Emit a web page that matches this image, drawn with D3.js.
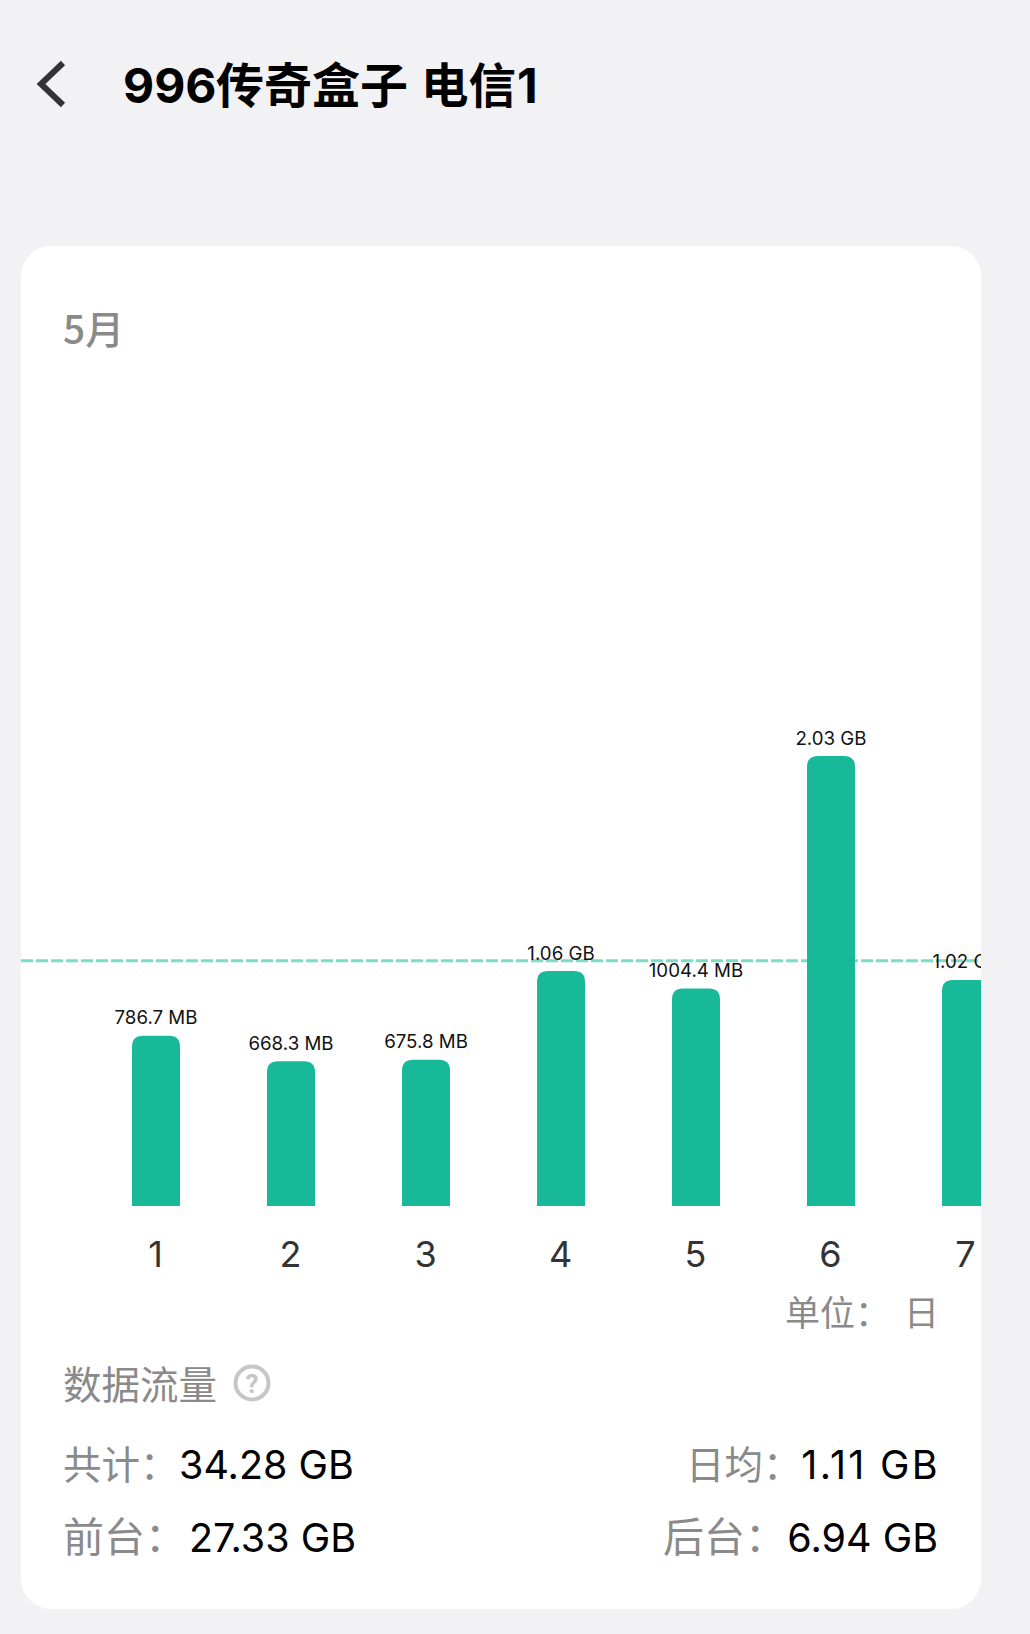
<!DOCTYPE html>
<html><head><meta charset="utf-8">
<script src="https://cdn.jsdelivr.net/npm/d3@7"></script>
<style>html,body{margin:0;padding:0;background:#f2f2f4}svg{display:block}</style>
</head><body><div id="c"></div>
<script>
const days = ["1","2","3","4","5","6","7"];
// Daily traffic in GB (MB labels divided by 1024)
const dailyGB = [0.768, 0.653, 0.660, 1.06, 0.981, 2.03, 1.02];
const barLabels = ["786.7 MB","668.3 MB","675.8 MB","1.06 GB","1004.4 MB","2.03 GB","1.02 GB"];
const averageGB = 1.106;
const stats = [
  {k:"共计：", v:"34.28 GB"},
  {k:"前台：", v:"27.33 GB"},
  {k:"日均：", v:"1.11 GB"},
  {k:"后台：", v:"6.94 GB"}
];
const CJK = '"Noto Sans CJK SC"';
const W = 1030, H = 1634;
const svg = d3.select("#c").append("svg").attr("width",W).attr("height",H);
svg.append("rect").attr("width",W).attr("height",H).attr("fill","#f2f2f4");

// header
svg.append("path").attr("d","M63,63 L41,84 L63,105").attr("fill","none").attr("stroke","#333").attr("stroke-width",6);
const title = svg.append("text").attr("y",103).attr("font-weight",700).attr("fill","#000");
[["996",123,"Inter",48],["传奇盒子",216,CJK,48],["电信",421,CJK,47.5],["1",517,"Inter",48]].forEach(p=>{
  title.append("tspan").attr("x",p[1]).attr("font-family",p[2]).attr("font-size",p[3]).text(p[0]);
});

// card
svg.append("rect").attr("x",21).attr("y",246).attr("width",960).attr("height",1363).attr("rx",30).attr("fill","#fff");
svg.append("defs").append("clipPath").attr("id","card").append("rect").attr("x",21).attr("y",246).attr("width",960).attr("height",1363);
svg.append("text").attr("x",63).attr("y",344).attr("font-family",CJK).attr("font-weight",500).attr("font-size",39).attr("fill","#8a8a8a").text("5月");

const x = d3.scalePoint().domain(days).range([156,966]);
const y = d3.scaleLinear().domain([0,2.03]).range([1206,756]);
const barW = 48, r = 11;
const plot = svg.append("g").attr("clip-path","url(#card)");

plot.append("line").attr("x1",21).attr("x2",981).attr("y1",y(averageGB)).attr("y2",y(averageGB))
  .attr("stroke","#7ddcc6").attr("stroke-width",3).attr("stroke-dasharray","12 3");

plot.selectAll("path.bar").data(days).join("path").attr("class","bar").attr("fill","#18b998")
  .attr("d",(d,i)=>{
    const l=x(d)-barW/2, t=y(dailyGB[i]), b=y(0);
    return `M${l},${b}V${t+r}Q${l},${t} ${l+r},${t}H${l+barW-r}Q${l+barW},${t} ${l+barW},${t+r}V${b}Z`;
  });
plot.selectAll("text.lab").data(days).join("text").attr("class","lab")
  .attr("x",d=>x(d)).attr("y",(d,i)=>y(dailyGB[i])-11.5).attr("text-anchor","middle")
  .attr("font-family","Inter").attr("font-size",18.7).attr("fill","#111").text((d,i)=>barLabels[i]);

const axis = svg.append("g").attr("transform","translate(0,1206)").call(d3.axisBottom(x).tickSize(0).tickPadding(0));
axis.select(".domain").remove();
axis.selectAll("text").attr("font-family","Inter").attr("font-size",36).attr("fill","#333").attr("dy",null).attr("y",61).attr("dx",-1);

// footer
const grey = "#8a8a8a";
svg.append("text").attr("x",785).attr("y",1326).attr("font-family",CJK).attr("font-size",35).attr("fill",grey).text("单位：");
svg.append("text").attr("x",904).attr("y",1326).attr("font-family",CJK).attr("font-size",35).attr("fill",grey).text("日");
svg.append("text").attr("x",63).attr("y",1399).attr("font-family",CJK).attr("font-size",38.5).attr("fill",grey).text("数据流量");
svg.append("circle").attr("cx",252).attr("cy",1383).attr("r",16.5).attr("fill","none").attr("stroke","#c6c6c6").attr("stroke-width",4);
svg.append("text").attr("x",252).attr("y",1393).attr("text-anchor","middle").attr("font-family","Roboto").attr("font-weight",700).attr("font-size",26).attr("fill","#c6c6c6").text("?");

const rows=[
  {x:63,vx:179,y:1479,a:"start",ks:38.5,ls:0},
  {x:63,vx:189,y:1552,a:"start",ks:41,ls:0},
  {x:686,vx:940,y:1479,a:"end",ks:38.5,ls:2.3},
  {x:663,vx:938,y:1552,a:"end",ks:41,ls:0}
];
stats.forEach((s,i)=>{
  svg.append("text").attr("x",rows[i].x).attr("y",rows[i].y).attr("font-family",CJK).attr("font-size",rows[i].ks).attr("fill",grey).text(s.k);
  svg.append("text").attr("x",rows[i].vx).attr("y",rows[i].y).attr("text-anchor",rows[i].a).attr("font-family","Inter").attr("font-size",39.5).attr("letter-spacing",rows[i].ls).attr("fill","#000").text(s.v);
});
</script></body></html>
